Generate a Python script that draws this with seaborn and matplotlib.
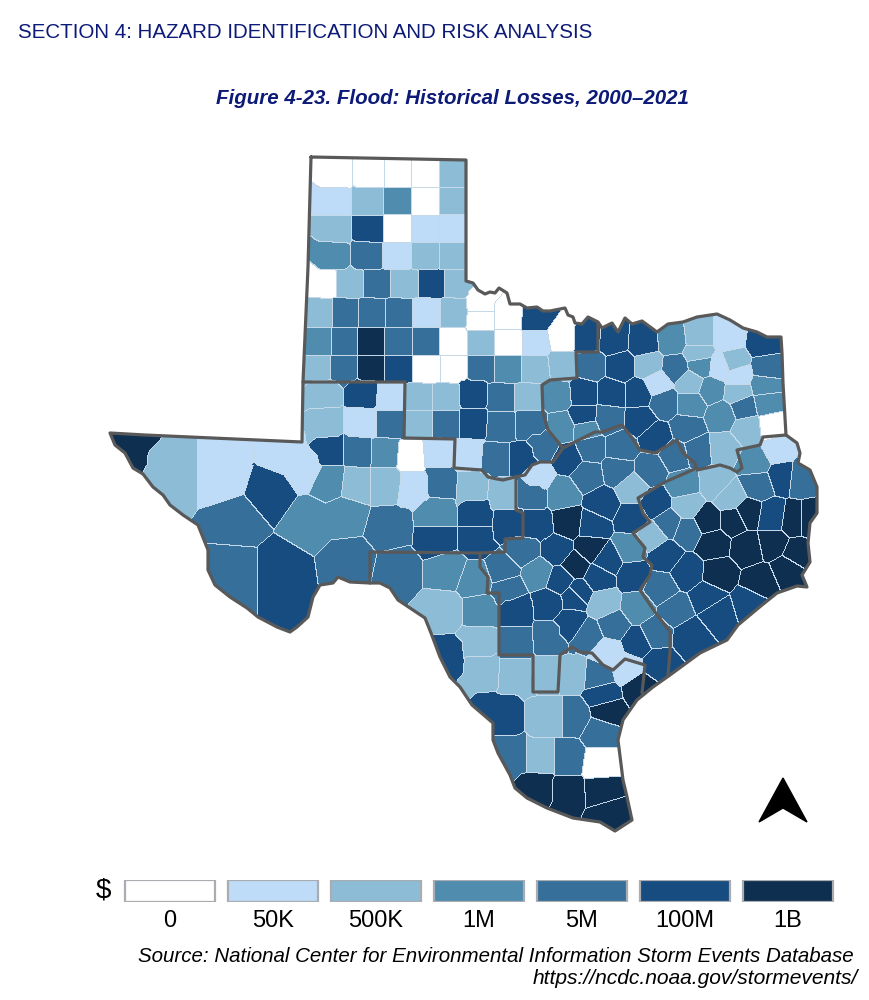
import numpy as np
import pandas as pd
import seaborn as sns
import matplotlib.pyplot as plt
from matplotlib.path import Path
from matplotlib.patches import Polygon
from matplotlib.colors import ListedColormap

legend_labels = ['0', '50K', '500K', '1M', '5M', '100M', '1B']
class_colors = ['#ffffff', '#bedcf7', '#8dbcd6', '#4f8cae', '#366f9a', '#174c80', '#0e2f50']

# county anchors, one list per loss class (x, y, [x, y ...])
county_0 = [(334, 173), (370, 173), (397, 173), (425, 173), (425, 201), (397, 228), (322, 283),
            (480, 303), (480, 318), (508, 316), (453, 342), (508, 342), (562, 337), (426, 368),
            (453, 368), (772, 425), (410, 455), (600, 762)]
county_50k = [(333, 201), (425, 228), (452, 228), (397, 255), (427, 312), (535, 342), (728, 337),
              (720, 367), (737, 375), (657, 383), (390, 397), (362, 423), (437, 452), (468, 454),
              (414, 487), (537, 477), (778, 450), (223, 477), (285, 452, 305, 468), (607, 652), (627, 668)]
county_500k = [(452, 173), (369, 201), (452, 201), (333, 228), (425, 255), (452, 255), (349, 283),
               (404, 283), (456, 283), (319, 312), (453, 312), (480, 342), (317, 368), (535, 368),
               (562, 365), (698, 337), (698, 353), (733, 362), (648, 365), (690, 382), (737, 392),
               (747, 428), (723, 448), (323, 392), (418, 397), (445, 397), (528, 397), (325, 423),
               (418, 423), (355, 483), (385, 483), (473, 487), (502, 495), (172, 477), (632, 488),
               (715, 483), (730, 497), (687, 505), (652, 536), (603, 603), (443, 610),
               (478, 642), (480, 670), (517, 675), (546, 673), (572, 673), (550, 717), (540, 757)]
county_1m = [(397, 201), (332, 255), (318, 342), (508, 368), (557, 395), (672, 340), (700, 365),
             (690, 403), (711, 389), (722, 415), (765, 385), (767, 402), (755, 463), (683, 485),
             (562, 427), (585, 428), (385, 452), (330, 480), (310, 520, 345, 515), (437, 513), (447, 570),
             (475, 580), (538, 573), (480, 610), (562, 493), (630, 548), (637, 607)]
county_5m = [(368, 255), (377, 283), (344, 312), (371, 312), (398, 312), (343, 342), (398, 342),
             (426, 342), (343, 368), (481, 368), (590, 365), (675, 368), (767, 368), (664, 402),
             (743, 407), (608, 418), (687, 428), (697, 450), (757, 483), (800, 477), (501, 397),
             (390, 423), (445, 423), (500, 425), (530, 423), (357, 450),
             (495, 458), (543, 445), (440, 482), (532, 493), (587, 475), (590, 448), (620, 447),
             (617, 470), (650, 470), (675, 455), (237, 520), (233, 570), (350, 560),
             (388, 527), (398, 570), (523, 550), (503, 570), (508, 588), (668, 523), (687, 530),
             (675, 610), (660, 588), (548, 637), (517, 642), (613, 625),
             (588, 635), (598, 675), (655, 633), (573, 717), (600, 732), (513, 757), (567, 757)]
county_100m = [(369, 228), (432, 283), (535, 318), (398, 368), (586, 338), (613, 340), (643, 342),
               (763, 342), (620, 366), (583, 393), (611, 393), (638, 393), (583, 417), (640, 420),
               (655, 437), (782, 475), (363, 392), (473, 392), (473, 423), (522, 458), (568, 458),
               (330, 450), (270, 492), (280, 570), (477, 513), (508, 523), (537, 525), (437, 538),
               (477, 538), (557, 550), (560, 580), (598, 577), (578, 592), (592, 525),
               (602, 503), (632, 518), (655, 503), (772, 517), (707, 597), (750, 603),
               (717, 613), (690, 635), (687, 572), (665, 555), (607, 560), (633, 575), (517, 610),
               (548, 603), (575, 595), (570, 623), (637, 642), (658, 663), (447, 657),
               (498, 713), (603, 695)]
county_1b = [(371, 342), (371, 368), (122, 450), (568, 522), (590, 548), (575, 565), (707, 520),
             (733, 520), (747, 513), (793, 520), (808, 520), (713, 543), (747, 547), (772, 542),
             (798, 553), (718, 573), (760, 582), (788, 570), (640, 688), (607, 710), (537, 788),
             (567, 793), (602, 792), (608, 812)]

# state border and region lines, same picture units as the anchors
state_x = [311, 466, 466, 473, 478, 485, 490, 495, 499, 507, 510, 520, 527, 537, 543, 550, 565, 568, 573, 575,
           582, 588, 598, 602, 612, 618, 625, 632, 642, 657, 668, 683, 697, 717, 730, 743, 757, 767, 781, 782,
           783, 786, 797, 800, 798, 810, 817, 817, 810, 808, 810, 802, 807, 797, 777, 762, 738, 727, 700, 670,
           653, 637, 623, 618, 623, 627, 632, 615, 600, 573, 547, 527, 515, 510, 498, 493, 493, 472, 460, 450,
           440, 431, 425, 413, 398, 390, 380, 370, 350, 338, 333, 320, 313, 308, 297, 290, 277, 258, 247, 230,
           215, 208, 208, 198, 183, 170, 163, 153, 143, 133, 125, 115, 110, 145, 302, 303, 308, 311]
state_y = [157, 160, 281, 283, 290, 294, 292, 293, 288, 293, 304, 304, 308, 307, 311, 311, 308, 315, 317, 323,
           324, 317, 322, 328, 323, 332, 318, 324, 321, 332, 324, 322, 317, 314, 320, 328, 332, 337, 337, 353,
           383, 435, 443, 453, 463, 470, 487, 513, 523, 543, 562, 575, 587, 586, 593, 605, 625, 640, 653, 675,
           687, 700, 720, 740, 780, 797, 820, 831, 822, 818, 808, 798, 788, 775, 753, 740, 723, 705, 687, 677,
           657, 633, 618, 610, 600, 588, 583, 583, 582, 577, 583, 585, 597, 617, 627, 632, 627, 617, 608, 597,
           585, 570, 550, 525, 515, 505, 495, 487, 474, 468, 453, 445, 433, 435, 442, 382, 267, 157]
region_a_x = [303, 405, 404, 455, 454, 482, 488, 497, 503, 515, 525, 532, 540, 553, 563, 575, 595, 602, 622, 630, 640,
              655, 677, 683, 695, 697, 720, 730, 737, 742, 737, 760, 763, 786]
region_a_y = [382, 382, 438, 439, 468, 470, 477, 479, 480, 477, 475, 465, 462, 462, 448, 442, 432, 432, 425, 435, 450,
              453, 440, 453, 463, 470, 465, 468, 472, 468, 450, 445, 437, 435]
region_b_x = [598, 598, 576, 577, 550, 542, 543, 548, 563]
region_b_y = [323, 352, 352, 378, 380, 385, 413, 430, 448]
region_c_x = [697, 665, 638, 643, 650, 633, 645, 643, 652, 650, 640, 655, 670, 670, 668]
region_c_y = [468, 482, 498, 513, 522, 533, 548, 557, 565, 575, 590, 612, 632, 652, 675]
region_d_x = [516, 516, 523, 523, 505, 505, 480, 370, 370]
region_d_y = [478, 510, 513, 538, 539, 552, 553, 552, 583]
region_e_x = [480, 480, 488, 487, 499, 499, 533, 533, 558, 560, 572, 580, 592, 603, 613, 625, 645, 642]
region_e_y = [553, 567, 577, 593, 593, 655, 655, 692, 692, 655, 647, 652, 653, 665, 670, 659, 665, 693]

x_min, x_max, y_min, y_max = 100, 825, 150, 840

counties = []
for cls, group in enumerate([county_0, county_50k, county_500k, county_1m, county_5m, county_100m, county_1b]):
    for anchors in group:
        counties.append((cls, np.array(anchors, dtype=float).reshape(-1, 2)))


def nearest_county(power):
    # every map pixel takes the index of its nearest county anchor
    grid_x = np.arange(x_min, x_max) + 0.5
    nearest = np.zeros((y_max - y_min, x_max - x_min), dtype=int)
    for row, y in enumerate(np.arange(y_min, y_max) + 0.5):
        best = np.full(grid_x.shape, np.inf)
        for i, (cls, pts) in enumerate(counties):
            d = (np.abs(grid_x[None, :] - pts[:, 0, None]) ** power + np.abs(y - pts[:, 1, None]) ** power).min(axis=0)
            nearest[row, d < best] = i
            best = np.minimum(best, d)
    return nearest


# the square survey counties of the panhandle and south keep straight edges with a high norm
px, py = np.meshgrid(np.arange(x_min, x_max), np.arange(y_min, y_max))
grid_zone = ((px < 400) & (py < 465)) | ((px >= 400) & (px < 545) & (py < 545)) | ((px >= 430) & (px < 575) & (py >= 600))
nearest = np.where(grid_zone, nearest_county(8), nearest_county(2))
classes = np.array([c[0] for c in counties])[nearest]

edges = np.zeros(nearest.shape, dtype=bool)
edges[:, 1:] |= nearest[:, 1:] != nearest[:, :-1]
edges[1:, :] |= nearest[1:, :] != nearest[:-1, :]

sns.set_style('white')
plt.rcParams['font.family'] = ['Liberation Sans', 'DejaVu Sans']

fig = plt.figure(figsize=(8.7, 10), dpi=100)
ax = fig.add_axes([x_min / 870, 1 - y_max / 1000, (x_max - x_min) / 870, (y_max - y_min) / 1000])
frame = pd.DataFrame(classes)
sns.heatmap(frame, ax=ax, cmap=ListedColormap(class_colors), vmin=-0.5, vmax=6.5, cbar=False,
            xticklabels=False, yticklabels=False)
sns.heatmap(pd.DataFrame(np.ones(edges.shape)), mask=~edges, ax=ax, cmap=ListedColormap(['#c4d8e8']), cbar=False,
            xticklabels=False, yticklabels=False)

state_path = Path(np.column_stack([np.array(state_x) - x_min, np.array(state_y) - y_min]))
for mesh in ax.collections:
    mesh.set_clip_path(state_path, ax.transData)

lines = [(state_x, state_y), (region_a_x, region_a_y), (region_b_x, region_b_y), (region_c_x, region_c_y),
         (region_d_x, region_d_y), (region_e_x, region_e_y)]
for lx, ly in lines:
    sns.lineplot(x=np.array(lx) - x_min, y=np.array(ly) - y_min, ax=ax, sort=False, estimator=None,
                 color='#595959', linewidth=2.3)
ax.set_xlim(0, x_max - x_min)
ax.set_ylim(y_max - y_min, 0)
ax.set_xlabel('')
ax.set_ylabel('')
ax.axis('off')

# north arrow
arrow = Polygon([(783 - x_min, 778 - y_min), (807 - x_min, 822 - y_min), (783 - x_min, 808 - y_min),
                 (759 - x_min, 822 - y_min)], closed=True, color='black', clip_on=False)
ax.add_patch(arrow)

leg = fig.add_axes([118.5 / 870, 1 - 902 / 1000, 721 / 870, 22 / 1000])
sns.barplot(x=legend_labels, y=[1] * 7, hue=legend_labels, palette=class_colors, legend=False, ax=leg,
            width=0.874, edgecolor='#a9adb2', linewidth=1.6, saturation=1)
leg.set_xlim(-0.5, 6.5)
leg.set_ylim(0, 1)
leg.set_yticks([])
leg.tick_params(axis='x', length=0, labelsize=17, pad=6, labelcolor='black')
sns.despine(ax=leg, left=True, bottom=True)

fig.text(18 / 870, 1 - 32 / 1000, 'SECTION 4: HAZARD IDENTIFICATION AND RISK ANALYSIS', color='#0c1a78',
         fontsize=14.8, va='center', ha='left')
fig.text(452 / 870, 1 - 99 / 1000, 'Figure 4-23. Flood: Historical Losses, 2000\u20132021', color='#0c1a78',
         fontsize=14.8, va='center', ha='center', fontweight='bold', fontstyle='italic')
fig.text(103 / 870, 1 - 891 / 1000, '$', color='black', fontsize=20, va='center', ha='center', parse_math=False)
fig.text(854 / 870, 1 - 956 / 1000, 'Source: National Center for Environmental Information Storm Events Database',
         color='black', fontsize=14.8, va='center', ha='right', fontstyle='italic')
fig.text(858 / 870, 1 - 979 / 1000, 'https://ncdc.noaa.gov/stormevents/', color='black', fontsize=15.1, va='center',
         ha='right', fontstyle='italic')

plt.savefig('out.png', dpi=100)
plt.close(fig)
